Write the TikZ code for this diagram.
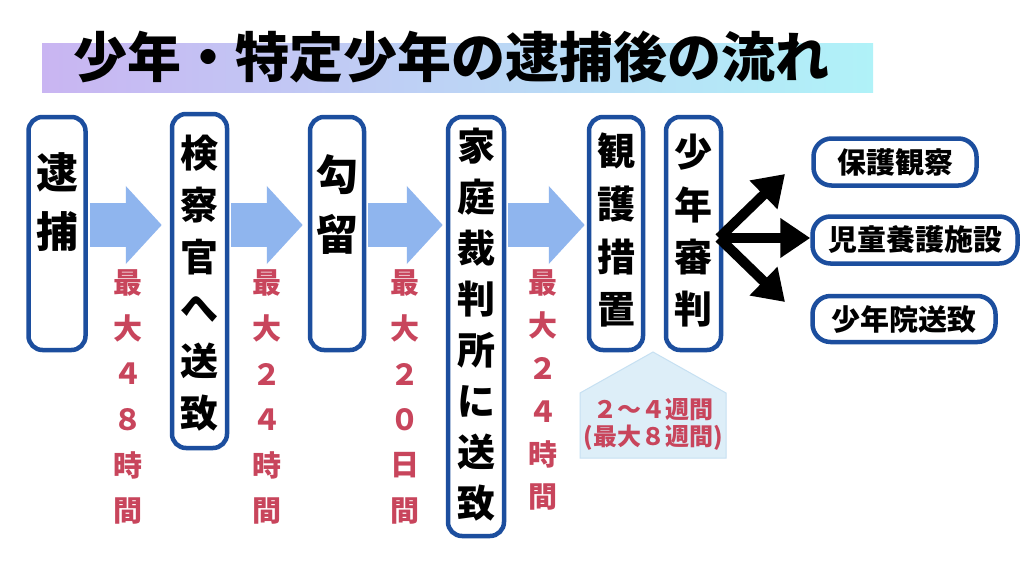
\documentclass[tikz,border=0pt]{standalone}
\usepackage{fontspec}
\setmainfont{Liberation Sans}
\newfontfamily\jp{Noto Sans CJK JP}
\usetikzlibrary{arrows.meta,calc}
\definecolor{boxblue}{HTML}{1C4E9E}
\definecolor{arrblue}{HTML}{8FB5EE}
\definecolor{redc}{HTML}{C8455C}
\definecolor{pentfill}{HTML}{DDEEF8}
\definecolor{pentdraw}{HTML}{C6E0F2}
\definecolor{bannerL}{HTML}{C9B5F2}
\definecolor{bannerM}{HTML}{BCD2F7}
\definecolor{bannerR}{HTML}{B0F2F8}
\tikzset{
  vbox/.style={draw=boxblue, line width=4.5pt, rounded corners=14pt, fill=white, inner sep=0pt},
  hbox/.style={draw=boxblue, line width=4.5pt, rounded corners=18pt, fill=white, inner sep=0pt,
               font=\jp\bfseries\fontsize{29}{29}\selectfont},
  bigt/.style={font=\jp\bfseries\fontsize{42}{42}\selectfont, inner sep=0pt},
  bt/.style={font=\jp\bfseries\fontsize{38}{38}\selectfont, inner sep=0pt},
  rt/.style={font=\jp\bfseries\fontsize{29}{29}\selectfont, text=redc, inner sep=0pt},
  pt/.style={font=\jp\bfseries\fontsize{24}{24}\selectfont, text=redc, inner sep=0pt},
  blockarrow/.style={draw=arrblue, line width=44pt, -{Triangle[length=36pt,width=76pt]}},
  blackarrow/.style={draw=black, line width=10pt, -{Triangle[length=30pt,width=38pt]}},
}
\begin{document}
\begin{tikzpicture}[x=1pt,y=-1pt]
\useasboundingbox[fill=white] (0,0) rectangle (1024,576);

% title banner
\shade[left color=bannerL, middle color=bannerM, right color=bannerR] (42,43) rectangle (873,92);
\node[font=\jp\bfseries\fontsize{54}{54}\selectfont, inner sep=0pt] (title) at (451,57) {少年・特定少年の逮捕後の流れ};

% vertical boxes
\node[vbox, minimum width=57, minimum height=233] (b1) at (57,233.5) {};
\node[vbox, minimum width=55, minimum height=334] (b2) at (199.5,281) {};
\node[vbox, minimum width=54, minimum height=233] (b3) at (337,233.5) {};
\node[vbox, minimum width=56, minimum height=419] (b4) at (476,326.5) {};
\node[vbox, minimum width=54, minimum height=233] (b5) at (616,233.5) {};
\node[vbox, minimum width=55, minimum height=233] (b6) at (693.5,233.5) {};

% box texts
\foreach \c [count=\i] in {逮,捕} \node[bigt] (t1c\i) at (57,172+60*\i-60) {\c};
\foreach \c [count=\i] in {検,察,官,へ,送,致} \node[bt] (t2c\i) at (199.5,153+52*\i-52) {\c};
\foreach \c [count=\i] in {勾,留} \node[bigt] (t3c\i) at (337,175+59*\i-59) {\c};
\foreach \c [count=\i] in {家,庭,裁,判,所,に,送,致} \node[bt] (t4c\i) at (476,146+51*\i-51) {\c};
\foreach \c [count=\i] in {観,護,措,置} \node[bt] (t5c\i) at (616,151+53*\i-53) {\c};
\foreach \c [count=\i] in {少,年,審,判} \node[bt] (t6c\i) at (693.5,152+52.5*\i-52.5) {\c};

% block arrows
\coordinate (ay) at (0,225);
\draw[blockarrow, shorten <=2pt, shorten >=8pt] (b1.east |- ay) -- (b2.west |- ay);
\draw[blockarrow, shorten <=2pt, shorten >=5pt] (b2.east |- ay) -- (b3.west |- ay);
\draw[blockarrow, shorten <=2pt, shorten >=3pt] (b3.east |- ay) -- (b4.west |- ay);
\draw[blockarrow, shorten <=2pt, shorten >=2pt] (b4.east |- ay) -- (b5.west |- ay);

% red labels
\foreach \c [count=\i] in {最,大,４,８,時,間} \node[rt] (r1c\i) at (128,283+45.5*\i-45.5) {\c};
\foreach \c [count=\i] in {最,大,２,４,時,間} \node[rt] (r2c\i) at (267,283+45.5*\i-45.5) {\c};
\foreach \c [count=\i] in {最,大,２,０,日,間} \node[rt] (r3c\i) at (405,283+45.5*\i-45.5) {\c};
\foreach \c [count=\i] in {最,大,２,４,時,間} \node[rt] (r4c\i) at (543,283+42.8*\i-42.8) {\c};

% pentagon
\draw[fill=pentfill, draw=pentdraw, line width=1pt] (653,352) -- (726,393) -- (726,458) -- (580,458) -- (580,393) -- cycle;
\node[pt] (p1) at (653,410) {２～４週間};
\node[pt] (p2) at (653,438) {(最大８週間)};

% right boxes
\node[hbox, minimum width=163, minimum height=47] (o1) at (895,162) {保護観察};
\node[hbox, minimum width=205, minimum height=47] (o2) at (915,240) {児童養護施設};
\node[hbox, minimum width=183, minimum height=46] (o3) at (904,319) {少年院送致};

% black arrows
\coordinate (fork) at (719,238);
\coordinate (tipU) at (785,174);
\coordinate (tipD) at (785,302);
\draw[blackarrow] (fork) -- (tipU);
\draw[blackarrow] (fork) -- (tipD);
\draw[blackarrow] (fork) -- (o2.west |- fork);
\end{tikzpicture}
\end{document}
